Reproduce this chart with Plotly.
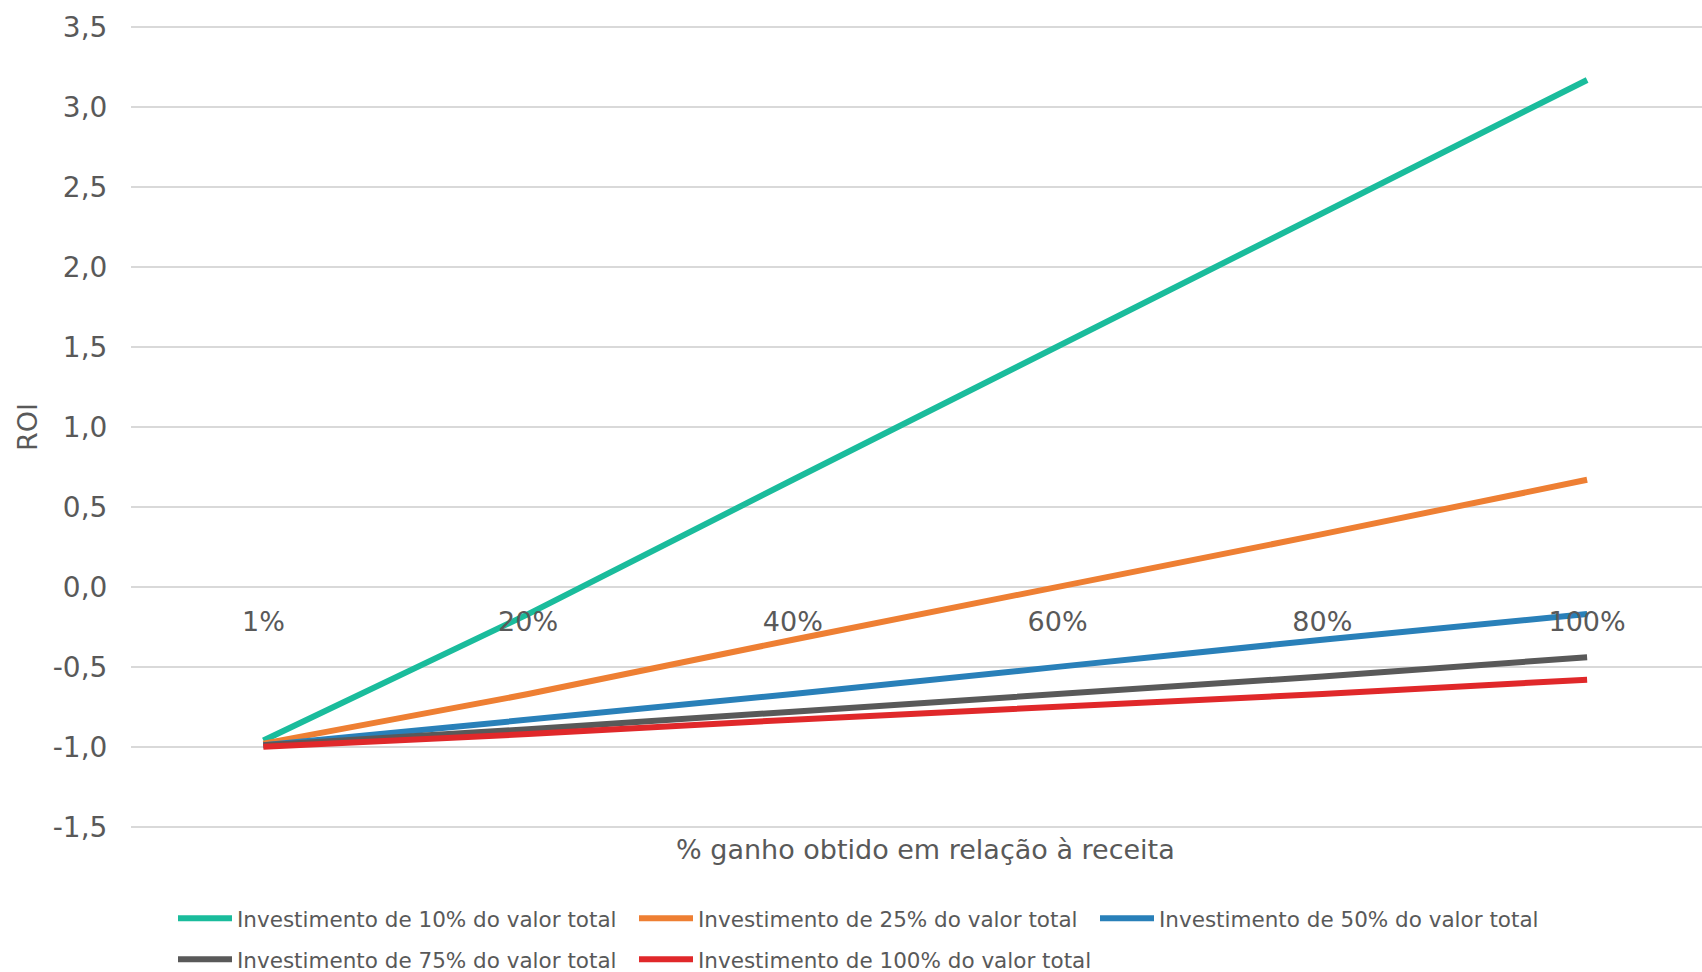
import plotly.graph_objects as go

categories = ["1%", "20%", "40%", "60%", "80%", "100%"]
inv10 = [-0.96, -0.17, 0.67, 1.50, 2.33, 3.17]
inv25 = [-0.98, -0.67, -0.33, 0.00, 0.33, 0.67]
inv50 = [-0.99, -0.83, -0.67, -0.50, -0.33, -0.17]
inv75 = [-0.99, -0.89, -0.78, -0.67, -0.56, -0.44]
inv100 = [-1.00, -0.92, -0.83, -0.75, -0.67, -0.58]

series_names = [
    "Investimento de 10% do valor total",
    "Investimento de 25% do valor total",
    "Investimento de 50% do valor total",
    "Investimento de 75% do valor total",
    "Investimento de 100% do valor total",
]
series_values = [inv10, inv25, inv50, inv75, inv100]
colors = ["#1abc9c", "#ee7f33", "#2980b9", "#595959", "#e0282a"]
legend_rows = ["legend", "legend", "legend", "legend2", "legend2"]

y_ticks = [-1.5, -1.0, -0.5, 0.0, 0.5, 1.0, 1.5, 2.0, 2.5, 3.0, 3.5]
y_ticklabels = ["-1,5", "-1,0", "-0,5", "0,0", "0,5", "1,0", "1,5", "2,0", "2,5", "3,0", "3,5"]

FONT = "Verdana, DejaVu Sans, sans-serif"
TXT = "#595959"

fig = go.Figure()
for name, vals, col, lg in zip(series_names, series_values, colors, legend_rows):
    fig.add_trace(go.Scatter(
        x=categories, y=vals, name=name, mode="lines",
        line=dict(color=col, width=6), legend=lg,
    ))

W, H = 1702, 972
PX_PER_UNIT = 160.0
Y0, Y1 = -1.52, 3.52
top_px = 27 - (Y1 - 3.5) * PX_PER_UNIT
bot_px = 827 + (-1.5 - Y0) * PX_PER_UNIT
L, R = 131, 0
T, B = top_px, H - bot_px
PH = bot_px - top_px
PW = W - L - R

def yfrac(py):
    return (bot_px - py) / PH

def xfrac(px):
    return (px - L) / PW

legend_common = dict(
    orientation="h", x=xfrac(173), xanchor="left", yanchor="top",
    font=dict(size=21.5, color=TXT, family=FONT),
    entrywidth=392, entrywidthmode="pixels", itemwidth=54,
    bgcolor="rgba(0,0,0,0)",
)

fig.update_layout(
    width=W, height=H,
    margin=dict(l=L, r=R, t=T, b=B, pad=0, autoexpand=False),
    paper_bgcolor="white", plot_bgcolor="white",
    font=dict(family=FONT, color=TXT, size=27),
    hovermode=False,
    xaxis=dict(
        type="category", range=[-0.5, 5.434],
        anchor="free", position=yfrac(27 + 3.5 * PX_PER_UNIT),
        showgrid=False, zeroline=False, showline=False,
        ticks="outside", ticklen=11, tickcolor="rgba(0,0,0,0)",
        tickfont=dict(size=27, color=TXT, family=FONT),
    ),
    yaxis=dict(
        range=[Y0, Y1], tickvals=y_ticks, ticktext=y_ticklabels,
        showgrid=True, gridcolor="#d9d9d9", gridwidth=1.5,
        zeroline=True, zerolinecolor="#d9d9d9", zerolinewidth=1.5,
        showline=False,
        ticks="outside", ticklen=17, tickcolor="rgba(0,0,0,0)",
        tickfont=dict(size=28, color=TXT, family=FONT),
    ),
    showlegend=True,
    legend=dict(y=yfrac(898), **legend_common),
    legend2=dict(y=yfrac(939), **legend_common),
    annotations=[
        dict(text="% ganho obtido em relação à receita", xref="paper", yref="paper",
             x=xfrac(925), y=yfrac(850),
             xanchor="center", yanchor="middle", showarrow=False,
             font=dict(size=27, color=TXT, family=FONT)),
        dict(text="ROI", xref="paper", yref="paper",
             x=xfrac(27), y=yfrac(427), textangle=-90,
             xanchor="center", yanchor="middle", showarrow=False,
             font=dict(size=27, color=TXT, family=FONT)),
    ],
)

fig.write_html(
    "out.html",
    config={"displayModeBar": False},
    post_script="document.body.style.margin='0';document.body.style.overflow='hidden';",
)
